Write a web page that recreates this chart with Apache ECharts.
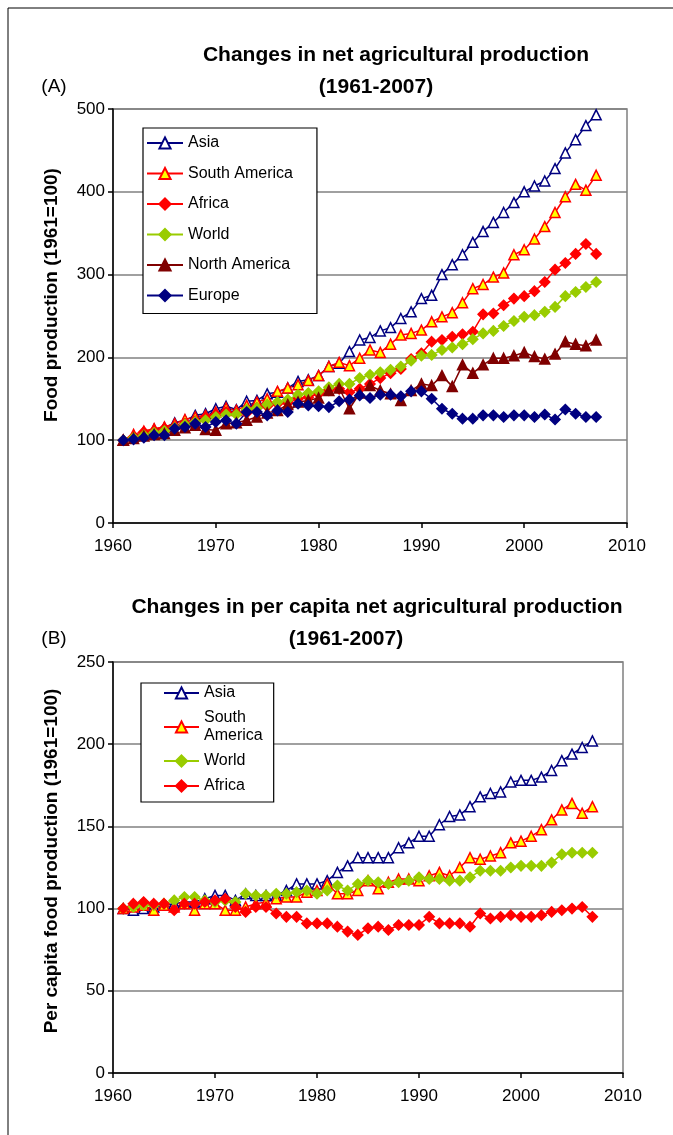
<!DOCTYPE html>
<html>
<head>
<meta charset="utf-8">
<script src="https://cdn.jsdelivr.net/npm/echarts@6/dist/echarts.min.js"></script>
<style>
  html, body { margin: 0; padding: 0; background: #fff; }
  #chart { width: 673px; height: 1135px; }
</style>
</head>
<body>
<div id="chart"></div>
<script>
// years on the x axis (1961-2007)
const years = [1961, 1962, 1963, 1964, 1965, 1966, 1967, 1968, 1969, 1970,
  1971, 1972, 1973, 1974, 1975, 1976, 1977, 1978, 1979, 1980,
  1981, 1982, 1983, 1984, 1985, 1986, 1987, 1988, 1989, 1990,
  1991, 1992, 1993, 1994, 1995, 1996, 1997, 1998, 1999, 2000,
  2001, 2002, 2003, 2004, 2005, 2006, 2007];

// (A) net agricultural production, 1961 = 100
const asiaA = [100, 105, 109, 113, 115, 121, 124, 130, 132, 138, 141, 137, 147, 148, 156, 158, 163, 171, 173, 178,
  189, 193, 207, 221, 224, 232, 236, 247, 255, 271, 275, 300, 312, 324, 339, 352, 363, 375, 387, 400,
  407, 413, 428, 447, 463, 480, 493];
const southAmericaA = [100, 107, 111, 114, 116, 120, 125, 128, 130, 134, 139, 136, 142, 146, 150, 159, 163, 167, 172, 178,
  189, 194, 190, 199, 209, 206, 216, 227, 229, 233, 243, 249, 254, 266, 283, 288, 297, 302, 324, 330,
  343, 358, 375, 394, 409, 402, 420];
const africaA = [100, 104, 110, 111, 114, 116, 120, 123, 128, 131, 134, 132, 133, 139, 141, 144, 145, 150, 152, 156,
  160, 162, 158, 162, 168, 175, 181, 186, 198, 205, 219, 221, 225, 228, 231, 252, 253, 263, 271, 274,
  280, 291, 306, 314, 325, 337, 325];
const worldA = [100, 103, 106, 109, 111, 115, 119, 122, 124, 128, 131, 131, 137, 139, 143, 146, 149, 155, 157, 159,
  164, 168, 168, 175, 179, 182, 185, 189, 196, 202, 203, 209, 212, 216, 222, 229, 232, 238, 244, 249,
  251, 255, 261, 274, 279, 285, 291];
const northAmericaA = [100, 102, 105, 107, 108, 112, 115, 118, 113, 112, 120, 121, 124, 128, 133, 136, 143, 146, 148, 151,
  160, 163, 138, 157, 166, 160, 156, 148, 160, 168, 166, 178, 165, 191, 181, 191, 199, 199, 202, 206,
  201, 198, 204, 219, 216, 214, 221];
const europeA = [100, 101, 103, 106, 106, 114, 116, 120, 116, 122, 124, 120, 134, 134, 130, 136, 134, 144, 142, 141,
  140, 147, 149, 154, 151, 155, 155, 153, 159, 159, 150, 138, 132, 126, 126, 130, 130, 128, 130, 130,
  128, 131, 125, 137, 132, 128, 128];

// (B) per capita net agricultural production, 1961 = 100
const asiaB = [100, 99, 100, 101, 102, 103, 104, 104, 106, 108, 108, 105, 109, 108, 108, 108, 111, 115, 115, 115,
  117, 122, 126, 131, 131, 131, 131, 137, 140, 144, 144, 151, 156, 157, 162, 168, 170, 171, 177, 178,
  178, 180, 184, 190, 194, 198, 202];
const southAmericaB = [100, 101, 102, 99, 102, 101, 103, 99, 103, 103, 99, 99, 101, 103, 104, 106, 107, 107, 110, 111,
  115, 109, 109, 111, 117, 112, 116, 118, 118, 117, 120, 122, 120, 125, 131, 130, 132, 134, 140, 141,
  144, 148, 154, 160, 164, 158, 162];
const worldB = [100, 101, 102, 102, 103, 105, 107, 107, 105, 104, 105, 104, 109, 108, 108, 109, 109, 110, 111, 109,
  111, 114, 111, 115, 117, 116, 115, 116, 117, 119, 118, 118, 117, 117, 119, 123, 123, 123, 125, 126,
  126, 126, 128, 133, 134, 134, 134];
const africaB = [100, 103, 104, 103, 103, 99, 103, 103, 104, 105, 106, 101, 98, 101, 101, 97, 95, 95, 91, 91,
  91, 89, 86, 84, 88, 89, 87, 90, 90, 90, 95, 91, 91, 91, 89, 97, 94, 95, 96, 95,
  95, 96, 98, 99, 100, 101, 95];

const legendA = ["Asia", "South America", "Africa", "World", "North America", "Europe"];
const legendB = ["Asia", "South America", "World", "Africa"];

const FONT = "Liberation Sans, Arial, sans-serif";

const looks = {
  "Asia": { color: "#000080", symbol: "triangle", size: 10, fill: "#ffffff" },
  "South America": { color: "#ff0000", symbol: "triangle", size: 10, fill: "#ffff00" },
  "Africa": { color: "#ff0000", symbol: "diamond", size: 10, fill: "#ff0000" },
  "World": { color: "#99cc00", symbol: "diamond", size: 10, fill: "#99cc00" },
  "North America": { color: "#800000", symbol: "triangle", size: 10, fill: "#800000" },
  "Europe": { color: "#000080", symbol: "diamond", size: 10, fill: "#000080" },
};

function makeSeries(name, values, idx) {
  const look = looks[name];
  return {
    name: name,
    type: "line",
    xAxisIndex: idx,
    yAxisIndex: idx,
    data: values.map((v, i) => [years[i], v]),
    symbol: look.symbol,
    symbolSize: look.size,
    showSymbol: true,
    lineStyle: { color: look.color, width: 1.5 },
    itemStyle: { color: look.fill, borderColor: look.color, borderWidth: 1.5 },
  };
}

function xAxis(idx) {
  return {
    type: "value",
    gridIndex: idx,
    min: 1960,
    max: 2010,
    interval: 10,
    axisLine: { show: true, lineStyle: { color: "#000", width: 1.5 } },
    axisTick: { show: true, length: 5, lineStyle: { color: "#000", width: 1.5 } },
    axisLabel: { color: "#000", fontSize: 17, fontFamily: FONT, margin: 15, formatter: (v) => String(v) },
    splitLine: { show: false },
  };
}

function yAxis(idx, max, interval) {
  return {
    type: "value",
    gridIndex: idx,
    min: 0,
    max: max,
    interval: interval,
    axisLine: { show: true, onZero: false, lineStyle: { color: "#000", width: 1.5 } },
    axisTick: { show: true, length: 5, lineStyle: { color: "#000", width: 1.5 } },
    axisLabel: { color: "#000", fontSize: 17, fontFamily: FONT, margin: 8 },
    splitLine: { show: true, lineStyle: { color: "#808080", width: 1.5 } },
  };
}

function textEl(text, x, y, size, bold, rotate) {
  return {
    type: "text",
    x: x,
    y: y,
    rotation: rotate ? Math.PI / 2 : 0,
    style: {
      text: text,
      fill: "#000",
      font: (bold ? "bold " : "") + size + "px " + FONT,
      align: "center",
      verticalAlign: "middle",
    },
  };
}

const chart = echarts.init(document.getElementById("chart"), null, { renderer: "canvas" });

chart.setOption({
  animation: false,
  backgroundColor: "#fff",
  grid: [
    { left: 113, top: 109, right: 46, height: 414, show: true, borderColor: "#808080", borderWidth: 1.5 },
    { left: 113, top: 662, right: 50, height: 411, show: true, borderColor: "#808080", borderWidth: 1.5 },
  ],
  xAxis: [xAxis(0), xAxis(1)],
  yAxis: [yAxis(0, 500, 100), yAxis(1, 250, 50)],
  legend: [
    {
      data: legendA,
      orient: "vertical",
      left: 143,
      top: 128,
      padding: [6, 24, 9, 3],
      itemGap: 12.5,
      itemWidth: 36,
      itemHeight: 14,
      borderColor: "#000",
      borderWidth: 1.2,
      backgroundColor: "#fff",
      selectedMode: false,
      textStyle: { color: "#000", fontSize: 16, fontFamily: FONT, lineHeight: 18 },
    },
    {
      data: legendB,
      orient: "vertical",
      left: 141,
      top: 683,
      padding: [1, 11, 7, 22],
      itemGap: 7,
      itemWidth: 35,
      itemHeight: 14,
      borderColor: "#000",
      borderWidth: 1.2,
      backgroundColor: "#fff",
      selectedMode: false,
      formatter: (name) => (name === "South America" ? "South\nAmerica" : name),
      textStyle: { color: "#000", fontSize: 16, fontFamily: FONT, lineHeight: 18 },
    },
  ],
  graphic: [
    { type: "rect", shape: { x: 8, y: 8, width: 700, height: 1200 }, style: { fill: "none", stroke: "#000", lineWidth: 1 } },
    textEl("Changes in net agricultural production", 396, 55, 21, true),
    textEl("(1961-2007)", 376, 87, 21, true),
    textEl("(A)", 54, 87, 19, false),
    textEl("Food production (1961=100)", 52, 295, 19, true, true),
    textEl("Changes in per capita net agricultural production", 377, 607, 21, true),
    textEl("(1961-2007)", 346, 639, 21, true),
    textEl("(B)", 54, 639, 19, false),
    textEl("Per capita food production (1961=100)", 52, 861, 19, true, true),
  ],
  series: [
    makeSeries("Asia", asiaA, 0),
    makeSeries("South America", southAmericaA, 0),
    makeSeries("Africa", africaA, 0),
    makeSeries("World", worldA, 0),
    makeSeries("North America", northAmericaA, 0),
    makeSeries("Europe", europeA, 0),
    makeSeries("Asia", asiaB, 1),
    makeSeries("South America", southAmericaB, 1),
    makeSeries("World", worldB, 1),
    makeSeries("Africa", africaB, 1),
  ],
});
</script>
</body>
</html>
